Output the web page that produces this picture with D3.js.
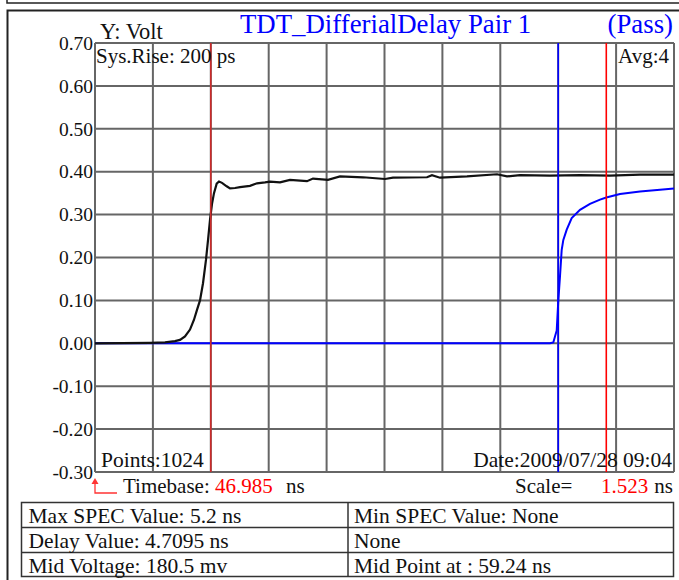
<!DOCTYPE html>
<html><head><meta charset="utf-8">
<script src="https://cdn.jsdelivr.net/npm/d3@7"></script>
<style>body{margin:0;background:#fff}svg{display:block}text{font-family:"Liberation Serif","Times New Roman",serif}</style>
</head><body>
<script>
// ---- data ----
const timebase = 46.985;      // ns
const scaleNs = 1.523;        // ns/div
const divisions = 10;
const yTicks = [0.70,0.60,0.50,0.40,0.30,0.20,0.10,0.00,-0.10,-0.20,-0.30];
const blackT = [46.985,48.432,48.826,49.089,49.221,49.352,49.484,49.589,49.668,49.747,49.826,49.905,49.957,50.010,50.063,50.115,50.186,50.247,50.326,50.449,50.536,50.668,50.799,51.062,51.246,51.457,51.588,51.851,52.114,52.561,52.719,53.114,53.429,54.034,54.613,54.824,55.718,55.849,56.060,56.770,57.559,57.822,58.164,58.953,59.742,60.532,61.321,62.215];
const blackV = [0.000,0.001,0.002,0.005,0.008,0.016,0.032,0.055,0.078,0.100,0.140,0.195,0.240,0.288,0.325,0.350,0.372,0.377,0.374,0.366,0.361,0.362,0.364,0.367,0.373,0.375,0.377,0.375,0.381,0.378,0.384,0.381,0.389,0.387,0.383,0.386,0.387,0.392,0.386,0.389,0.394,0.389,0.392,0.391,0.392,0.391,0.393,0.393];
const blueT = [46.985,52.377,58.953,59.040,59.130,59.172,59.216,59.261,59.304,59.393,59.524,59.742,60.005,60.269,60.434,60.795,61.321,61.847,62.215];
const blueV = [0.000,0.000,0.000,0.002,0.030,0.100,0.156,0.218,0.241,0.265,0.292,0.311,0.325,0.335,0.340,0.348,0.354,0.358,0.361];
const markers = [{t:50.031,c:"#cc2a2a"},{t:59.169,c:"#0000ff"},{t:60.434,c:"#ff0000"}];
const tableRows = [["Max SPEC Value: 5.2 ns","Min SPEC Value: None"],["Delay Value: 4.7095 ns","None"],["Mid Voltage: 180.5 mv","Mid Point at : 59.24 ns"]];

const W=679,H=580;
const svg=d3.select("body").append("svg").attr("width",W).attr("height",H);
const L=95,R=674,T=43,B=472;
const x=d3.scaleLinear().domain([timebase,timebase+scaleNs*divisions]).range([L,R]);
const y=d3.scaleLinear().domain([-0.30,0.70]).range([B,T]);
const FS=21.5;

// frames
svg.append("path").attr("d","M7,0V3H679").attr("fill","none").attr("stroke","#222").attr("stroke-width",1.5);
svg.append("path").attr("d","M7.5,580V10.5H679").attr("fill","none").attr("stroke","#222").attr("stroke-width",2);

// grid
const g=svg.append("g");
const xt=d3.range(divisions+1).map(i=>timebase+i*scaleNs);
g.selectAll("line.v").data(xt).join("line").attr("x1",d=>x(d)).attr("x2",d=>x(d)).attr("y1",T).attr("y2",B).attr("stroke","#666").attr("stroke-width",2);
g.selectAll("line.h").data(yTicks).join("line").attr("y1",d=>y(d)).attr("y2",d=>y(d)).attr("x1",L).attr("x2",R).attr("stroke","#666").attr("stroke-width",2);

// y labels
const yAxis=d3.axisLeft(y).tickValues(yTicks).tickSize(0).tickPadding(2).tickFormat(d=>d.toFixed(2));
const ya=svg.append("g").attr("transform",`translate(${L},0)`).call(yAxis);
ya.select(".domain").remove();
ya.selectAll("text").attr("font-size",19.5).attr("fill","#111").attr("font-family","Liberation Serif");

// traces
const line=d3.line().x(d=>x(d[0])).y(d=>y(d[1]));
svg.append("path").datum(blueT.map((t,i)=>[t,blueV[i]])).attr("d",line).attr("fill","none").attr("stroke","#0000ff").attr("stroke-width",2);
svg.append("path").datum(blackT.map((t,i)=>[t,blackV[i]])).attr("d",line).attr("fill","none").attr("stroke","#111").attr("stroke-width",2.2);

// markers
svg.selectAll("line.m").data(markers).join("line").attr("x1",d=>x(d.t)).attr("x2",d=>x(d.t)).attr("y1",T).attr("y2",B).attr("stroke",d=>d.c).attr("stroke-width",1.6);

// texts
function txt(s,xx,yy,opt={}){return svg.append("text").attr("x",xx).attr("y",yy).attr("font-size",opt.size||FS).attr("fill",opt.fill||"#111").attr("text-anchor",opt.anchor||"start").text(s);}
txt("TDT_DifferialDelay Pair 1",240,33,{size:26.8,fill:"#0000ff"});
txt("(Pass)",673,33,{size:26.8,fill:"#0000ff",anchor:"end"});
txt("Y: Volt",100,39,{size:22.5});
txt("Sys.Rise: 200 ps",96,63,{size:21});
txt("Avg:4",669,63,{size:21,anchor:"end"});
txt("Points:1024",101,467);
txt("Date:2009/07/28 09:04",672,467,{anchor:"end"});
txt("Timebase:",123,493,{size:21});
txt(timebase.toFixed(3),215,493,{size:21,fill:"#ff0000"});
txt("ns",286,493,{size:21});
txt("Scale=",515,493,{size:21});
txt(scaleNs.toFixed(3),601,493,{size:21,fill:"#ff0000"});
txt("ns",673,493,{size:21,anchor:"end"});
// red arrow
svg.append("path").attr("d","M95,482V493H117").attr("fill","none").attr("stroke","#ff3333").attr("stroke-width",1.3);
svg.append("path").attr("d","M95,478L91.5,484L98.5,484Z").attr("fill","#ff3333");

// table
const tx0=21.5,tx1=348,tx2=673.5,ty=[502.5,527.5,552.5,576.5];
const tg=svg.append("g");
tg.append("rect").attr("x",tx0).attr("y",ty[0]).attr("width",tx2-tx0).attr("height",ty[3]-ty[0]).attr("fill","none").attr("stroke","#333").attr("stroke-width",1.5);
[1,2].forEach(i=>tg.append("line").attr("x1",tx0).attr("x2",tx2).attr("y1",ty[i]).attr("y2",ty[i]).attr("stroke","#333").attr("stroke-width",1.5));
tg.append("line").attr("x1",tx1).attr("x2",tx1).attr("y1",ty[0]).attr("y2",ty[3]).attr("stroke","#333").attr("stroke-width",1.5);
tableRows.forEach((r,i)=>{
  txt(r[0],tx0+7,ty[i]+20);
  txt(r[1],tx1+6,ty[i]+20);
});
</script>
</body></html>
